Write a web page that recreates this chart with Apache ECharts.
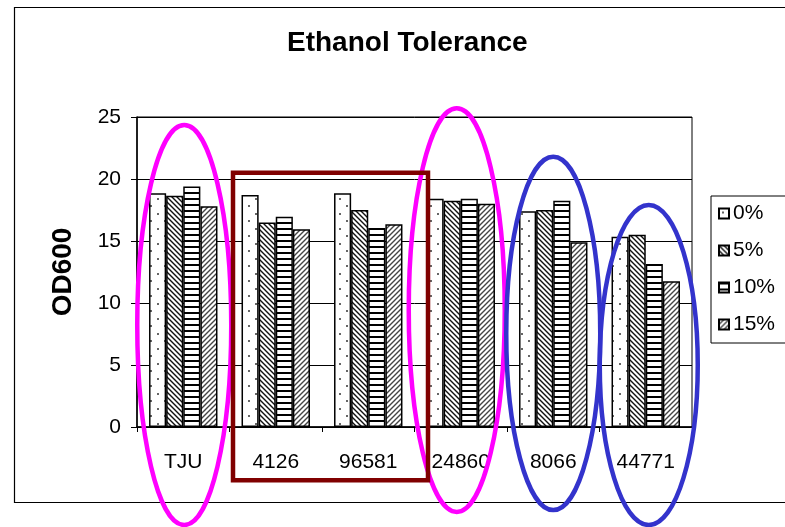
<!DOCTYPE html>
<html><head><meta charset="utf-8">
<script src="https://cdn.jsdelivr.net/npm/echarts@6/dist/echarts.min.js"></script>
<style>html,body{margin:0;padding:0;background:#fff}#c{width:785px;height:527px}</style>
</head><body><div id="c"></div>
<script>
// ---- data ----
const categories = ['TJU', '4126', '96581', '24860', '8066', '44771'];
const seriesNames = ['0%', '5%', '10%', '15%'];
const v0  = [18.85, 18.7, 18.85, 18.4, 17.4, 15.35];
const v5  = [18.65, 16.5, 17.5, 18.25, 17.5, 15.5];
const v10 = [19.4, 16.95, 16.05, 18.4, 18.25, 13.15];
const v15 = [17.8, 15.95, 16.35, 18.0, 14.9, 11.75];
const yTicks = [0, 5, 10, 15, 20, 25];

// ---- patterns ----
function pat(kind) {
  const c = document.createElement('canvas');
  const g = c.getContext('2d');
  if (kind === 'dots') {
    c.width = 14; c.height = 15;
    g.fillStyle = '#fff'; g.fillRect(0, 0, 14, 15);
    g.fillStyle = '#666';
    g.fillRect(3, 3, 2, 2); g.fillRect(10, 10, 2, 2);
  } else if (kind === 'back' || kind === 'fwd') {
    const s = 5; c.width = s; c.height = s;
    g.fillStyle = '#fff'; g.fillRect(0, 0, s, s);
    g.strokeStyle = kind === 'back' ? '#111' : '#444';
    g.lineWidth = 1.4;
    g.beginPath();
    if (kind === 'back') {
      g.moveTo(-1, -1); g.lineTo(s + 1, s + 1);
      g.moveTo(-1, s - 1); g.lineTo(1, s + 1);
      g.moveTo(s - 1, -1); g.lineTo(s + 1, 1);
    } else {
      g.moveTo(-1, s + 1); g.lineTo(s + 1, -1);
      g.moveTo(-1, 1); g.lineTo(1, -1);
      g.moveTo(s - 1, s + 1); g.lineTo(s + 1, s - 1);
    }
    g.stroke();
  } else if (kind === 'horiz') {
    c.width = 4; c.height = 6;
    g.fillStyle = '#fff'; g.fillRect(0, 0, 4, 6);
    g.fillStyle = '#000'; g.fillRect(0, 0, 4, 2);
  }
  return { image: c, repeat: 'repeat' };
}
const fills = [pat('dots'), pat('back'), pat('horiz'), pat('fwd')];
const values = [v0, v5, v10, v15];

const chart = echarts.init(document.getElementById('c'), null, { renderer: 'canvas' });
const FONT = 'Liberation Sans, Arial, sans-serif';

chart.setOption({
  animation: false,
  backgroundColor: '#fff',
  title: {
    text: 'Ethanol Tolerance', left: 287, top: 29, padding: 0,
    textStyle: { fontFamily: FONT, fontSize: 28, fontWeight: 'bold', color: '#000' }
  },
  legend: {
    data: seriesNames, orient: 'vertical', left: 711, top: 196,
    padding: [7, 60, 8, 7], itemGap: 16, itemWidth: 10, itemHeight: 10,
    borderColor: '#000', borderWidth: 1, borderRadius: 0,
    textStyle: { fontFamily: FONT, fontSize: 21, lineHeight: 21, color: '#000', padding: [0, 0, 0, -1] },
    icon: 'rect'
  },
  grid: {
    left: 137, right: 93, top: 117, bottom: 100,
    show: true, borderColor: '#000', borderWidth: 1
  },
  xAxis: {
    type: 'category', data: categories,
    axisLine: { lineStyle: { color: '#000', width: 1.5 } },
    axisTick: { show: true, length: 5, lineStyle: { color: '#000' } },
    axisLabel: { fontFamily: FONT, fontSize: 21, color: '#000', margin: 25 }
  },
  yAxis: {
    type: 'value', min: 0, max: 25, interval: 5,
    name: 'OD600', nameLocation: 'middle', nameGap: 60, nameRotate: 90,
    nameTextStyle: { fontFamily: FONT, fontSize: 28, fontWeight: 'bold', color: '#000' },
    axisLine: { show: true, lineStyle: { color: '#000', width: 1.5 } },
    axisTick: { show: true, length: 6, lineStyle: { color: '#000' } },
    axisLabel: { fontFamily: FONT, fontSize: 21, color: '#000', margin: 16,
      formatter: v => yTicks.includes(v) ? String(v) : '' },
    splitLine: { lineStyle: { color: '#000', width: 1 } }
  },
  series: seriesNames.map((n, i) => ({
    name: n, type: 'bar', data: values[i],
    barGap: '0%', barCategoryGap: '26%',
    itemStyle: { color: fills[i], borderColor: '#000', borderWidth: 1.5 }
  }))
});

// ---- annotations (anchored to axis positions) ----
function px(cat, val) { return chart.convertToPixel({ gridIndex: 0 }, [cat, val]); }
const MAG = '#ff00ff', BLUE = '#3333cc', RED = '#800000';
const ellipses = [
  { cat: 'TJU', dx: 1, rx: 47, top: 24.35, bot: -7.9, color: MAG },
  { cat: '24860', dx: -4, rx: 48, top: 25.7, bot: -6.85, color: MAG },
  { cat: '8066', dx: 0, rx: 47, top: 21.8, bot: -6.7, color: BLUE },
  { cat: '44771', dx: 3, rx: 49, top: 17.9, bot: -7.9, color: BLUE }
];
const gfx = [];
gfx.push({ type: 'rect', left: 12, top: 5, shape: { width: 800, height: 495 },
  style: { fill: 'none', stroke: '#000', lineWidth: 1.2 }, z: 0, silent: true });
ellipses.forEach(e => {
  const t = px(e.cat, e.top), b = px(e.cat, e.bot);
  gfx.push({ type: 'ellipse', shape: { cx: t[0] + e.dx, cy: (t[1] + b[1]) / 2, rx: e.rx, ry: (b[1] - t[1]) / 2 },
    style: { fill: 'none', stroke: e.color, lineWidth: 4.5 }, z: 100, silent: true });
});
{
  const a = px('4126', 20.5), b = px('96581', -4.3);
  const half = (px('96581', 0)[0] - px('4126', 0)[0]) / 2;
  const x0 = a[0] - half + 3.5, x1 = b[0] + half + 13.5;
  gfx.push({ type: 'rect', shape: { x: x0, y: a[1], width: x1 - x0, height: b[1] - a[1] },
    style: { fill: 'none', stroke: RED, lineWidth: 4.5 }, z: 100, silent: true });
}
chart.setOption({ graphic: gfx });
</script></body></html>
